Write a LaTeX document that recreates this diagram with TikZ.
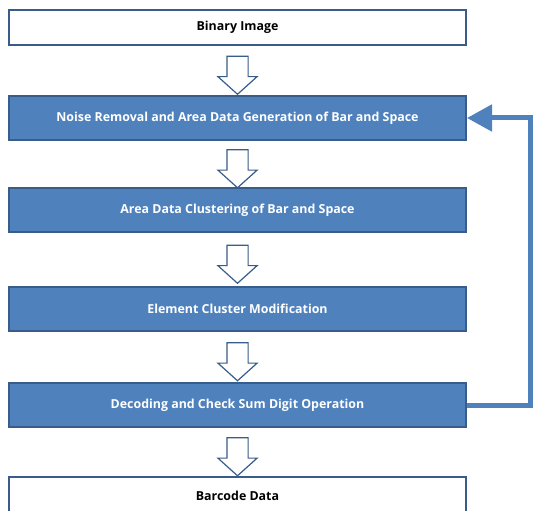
\documentclass[tikz,border=0pt]{standalone}
\usepackage{fontspec}
\setmainfont{Open Sans}
\usetikzlibrary{shapes.arrows,arrows.meta,calc}
\definecolor{boxfill}{HTML}{4F81BD}
\definecolor{boxline}{HTML}{385D8A}
\tikzset{
  labelfont/.style={font=\fontsize{12.4}{14}\selectfont\bfseries},
  stagebox/.style={rectangle, draw=boxline, line width=2pt, fill=boxfill,
    minimum width=457pt, minimum height=44pt, inner sep=0pt,
    text=white, labelfont},
  endbox/.style={stagebox, fill=white, text=black},
  flowarrow/.style={single arrow, draw=boxline, line width=1.2pt, fill=white,
    inner sep=10pt, single arrow head extend=9pt, single arrow tip angle=96,
    minimum height=38pt, rotate=-90},
  feedback/.style={draw=boxfill, line width=5pt,
    -{Triangle[length=25pt,width=26pt]}}
}
\begin{document}
\begin{tikzpicture}[x=1pt,y=-1pt]
  \useasboundingbox (0,0) rectangle (534,510);
  \clip (0,0) rectangle (534,510);
  \fill[white] (0,0) rectangle (534,510);

  % processing stages
  \node[endbox, minimum height=35pt] (bin) at (237.5,27.5) {Binary Image};
  \node[stagebox] (noise) at (237.5,118) {Noise Removal and Area Data Generation of Bar and Space};
  \node[stagebox] (clust) at (237.5,210) {Area Data Clustering of Bar and Space};
  \node[stagebox] (elem)  at (237.5,309) {Element Cluster Modification};
  \node[stagebox] (dec)   at (237.5,405) {Decoding and Check Sum Digit Operation};
  \node[endbox, minimum height=60pt] (out) at (237.5,507) {};
  \node[labelfont] (outtext) at (237.5,496) {Barcode Data};

  % block arrows between stages
  \node[flowarrow] (a1) at ($(bin.south)!0.5!(noise.north)$) {};
  \node[flowarrow] (a2) at ($(noise.south)!0.5!(clust.north)$) {};
  \node[flowarrow] (a3) at ($(clust.south)!0.5!(elem.north)$) {};
  \node[flowarrow] (a4) at ($(elem.south)!0.5!(dec.north)$) {};
  \node[flowarrow] (a5) at (237.5,452) {};

  % loop back from decoding to noise removal
  \draw[feedback] (dec.east) -- ++(63,0) |- (noise.east);
\end{tikzpicture}
\end{document}
